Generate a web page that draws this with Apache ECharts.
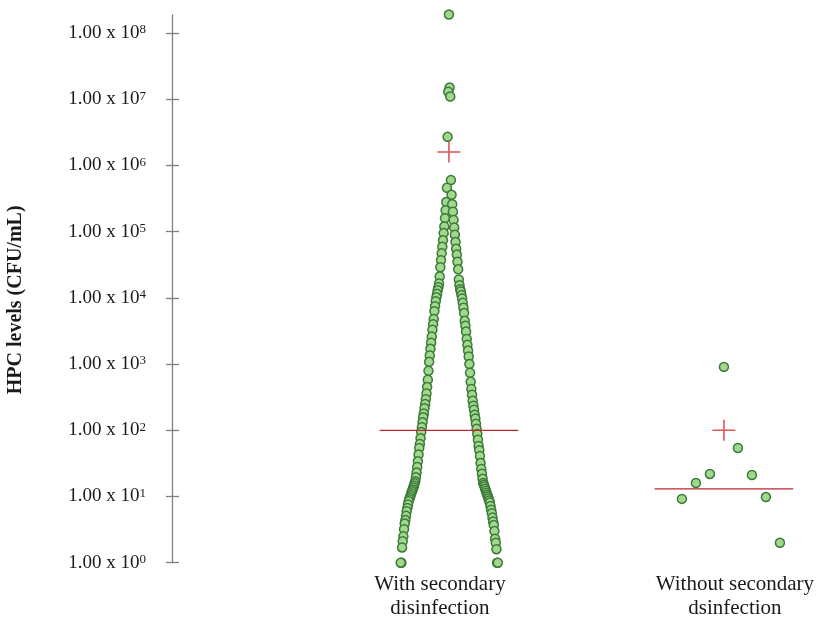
<!DOCTYPE html>
<html>
<head>
<meta charset="utf-8">
<script src="https://cdn.jsdelivr.net/npm/echarts@6/dist/echarts.min.js"></script>
<style>
html, body { margin: 0; padding: 0; background: #fff; }
#chart { width: 824px; height: 621px; }
</style>
</head>
<body>
<div id="chart"></div>
<script>
// HPC levels (CFU/mL)
const groupNames = ["With secondary\ndisinfection", "Without secondary\ndsinfection"];
const withSecondary = [
  1.9e8, 1.5e7, 1.3e7, 1.1e7, 2.7e6, 6.0e5, 4.6e5, 3.6e5,
  2.8e5, 2.6e5, 2.1e5, 2.0e5, 1.6e5, 1.5e5, 1.2e5, 1.15e5, 9.5e4, 9.0e4,
  7.4e4, 7.0e4, 5.9e4, 5.5e4, 4.7e4, 4.5e4, 3.7e4, 3.5e4, 2.9e4, 2.7e4,
  2.1e4, 1.9e4, 1.65e4, 1.55e4, 1.45e4, 1.35e4, 1.3e4, 1.25e4, 1.15e4, 1.1e4,
  1.02e4, 9800, 8900, 8400, 7500, 7100, 6300, 5900, 4800, 4500,
  4000, 3800, 3300, 3100, 2600, 2400, 2100, 1950, 1700, 1600,
  1350, 1300, 1080, 1000, 790, 740, 580, 540, 450, 420,
  360, 345, 295, 280, 250, 235, 215, 205, 180, 172,
  157, 150, 132, 126, 111, 105, 94, 88, 76, 72,
  62, 58, 54, 50, 43, 41, 34, 32, 28, 26,
  23, 22, 19.5, 18.5, 17, 16, 15.8, 15, 14.7, 14.1,
  13.7, 13.1, 12.8, 12.2, 12, 11.4, 11.2, 10.6, 10.4, 10,
  9.7, 9.3, 9.1, 8.7, 8.5, 8.1, 7.6, 7.2, 6.7, 6.3,
  6.0, 5.6, 5.1, 4.8, 4.4, 4.2, 3.9, 3.7, 3.2, 3.0,
  2.5, 2.3, 2.1, 2.0, 1.7, 1.6, 1, 1, 1, 1
];
const withoutSecondary = [906, 54, 21.9, 21.1, 16, 9.8, 9.2, 2.0];
const meanValues = [1.6e6, 100];
const medianValues = [100, 13];
const tickExponents = [0, 1, 2, 3, 4, 5, 6, 7, 8];

const groupPos = [1, 2];
const pxPerUnit = 275;      // x 轴 1 个单位 = 275px
const stepPx = [0.66, 14];  // 点的横向错开步长
const halfLine = 0.252;     // 中位线半宽

// 按数值从大到小排，左右交替散开
function swarm(values, center, step) {
  const sorted = values.slice().sort((a, b) => b - a);
  return sorted.map((v, k) => {
    const side = k === 0 ? 0 : (k % 2 ? 1 : -1);
    const off = side * Math.ceil(k / 2) * step / pxPerUnit;
    return [center + off, Math.log10(v)];
  });
}

const serif = "'Liberation Serif', 'DejaVu Serif', serif";
const axisGray = "#808080";
const textColor = "#1a1a1a";

const chart = echarts.init(document.getElementById("chart"));

const pointStyle = {
  color: "#a2d88e",
  borderColor: "#3b7a37",
  borderWidth: 1.5,
  opacity: 1
};

const series = [
  {
    type: "scatter",
    data: swarm(withSecondary, groupPos[0], stepPx[0]),
    symbolSize: 9,
    itemStyle: pointStyle,
    clip: false,
    z: 2
  },
  {
    type: "scatter",
    data: swarm(withoutSecondary, groupPos[1], stepPx[1]),
    symbolSize: 9,
    itemStyle: pointStyle,
    clip: false,
    z: 2
  },
  {
    type: "scatter",
    data: meanValues.map((m, i) => [groupPos[i], Math.log10(m)]),
    symbol: "path://M9.3,0h1.4v9.3h9.3v1.4h-9.3v9.3h-1.4v-9.3h-9.3v-1.4h9.3z",
    symbolSize: [23, 21],
    itemStyle: { color: "#d62a35" },
    z: 4
  }
];
medianValues.forEach((m, i) => {
  series.push({
    type: "line",
    data: [[groupPos[i] - halfLine, Math.log10(m)], [groupPos[i] + halfLine, Math.log10(m)]],
    symbol: "none",
    lineStyle: { color: "#c0262f", width: 1.3 },
    z: 3
  });
});

const option = {
  animation: false,
  backgroundColor: "#fff",
  grid: { left: 172, right: 3, top: 15, bottom: 58.3, containLabel: false, outerBoundsMode: "none" },
  xAxis: {
    type: "value",
    min: -0.007,
    max: 2.353,
    axisLine: { show: false },
    axisTick: { show: false },
    splitLine: { show: false },
    axisLabel: {
      customValues: groupPos,
      margin: 10,
      formatter: function (v) {
        const i = Math.round(v) - 1;
        return groupNames[i].split("\n").map(s => "{g" + i + "|" + s + "}").join("\n");
      },
      rich: {
        g0: { fontFamily: serif, fontSize: 21, lineHeight: 24, color: textColor, padding: [0, 18, 0, 0] },
        g1: { fontFamily: serif, fontSize: 21, lineHeight: 24, color: textColor, padding: [0, 0, 0, 22] }
      }
    }
  },
  yAxis: [
    {
      type: "value",
      min: 0,
      max: 8.272,
      axisLine: { show: true, onZero: false, lineStyle: { color: axisGray, width: 1.3 } },
      axisTick: { show: true, customValues: tickExponents, length: 6, lineStyle: { color: axisGray, width: 1.3 } },
      splitLine: { show: false },
      axisLabel: {
        customValues: tickExponents,
        margin: 26,
        formatter: function (v) {
          return "{b|1.00 x 10}{s|" + v + "}";
        },
        rich: {
          b: { fontFamily: serif, fontSize: 19, color: textColor },
          s: { fontFamily: serif, fontSize: 13, color: textColor, verticalAlign: "top" }
        }
      },
      name: "HPC levels (CFU/mL)",
      nameLocation: "middle",
      nameGap: 146,
      nameRotate: 90,
      nameTextStyle: { fontFamily: serif, fontSize: 20, fontWeight: "bold", color: textColor, padding: [0, 22, 0, 0] }
    },
    {
      type: "value",
      min: 0,
      max: 8.272,
      position: "left",
      offset: 0,
      axisLine: { show: false, onZero: false },
      axisTick: { show: true, inside: true, customValues: tickExponents, length: 7, lineStyle: { color: axisGray, width: 1.3 } },
      axisLabel: { show: false },
      splitLine: { show: false }
    }
  ],
  series: series
};

chart.setOption(option);
</script>
</body>
</html>
